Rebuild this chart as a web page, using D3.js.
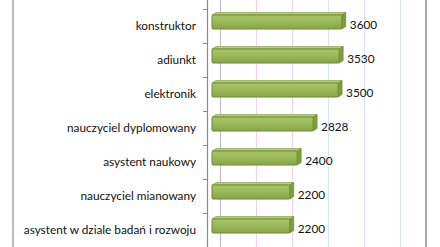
<!DOCTYPE html>
<html>
<head>
<meta charset="utf-8">
<script src="https://cdn.jsdelivr.net/npm/d3@7"></script>
<style>
  body { margin: 0; background: #fff; }
  svg { display: block; font-family: Lato, "Open Sans", sans-serif; }
</style>
</head>
<body>
<svg width="440" height="247"></svg>
<script>
var categories = ["konstruktor", "adiunkt", "elektronik", "nauczyciel dyplomowany",
  "asystent naukowy", "nauczyciel mianowany", "asystent w dziale badań i rozwoju"];
var values = [3600, 3530, 3500, 2828, 2400, 2200, 2200];
var gridValues = [0, 1000, 2000, 3000, 4000, 5000];
var gridColors = ["#c4bccf", "#f3d2f3", "#f3d2f3", "#d9e5f8", "#d9e5f8", "#d9e5f8"];

var svg = d3.select("svg"),
    width = +svg.attr("width"),
    height = +svg.attr("height"),
    dx = 4, dy = 2.5;

// front face scale and back wall scale (3D offset)
var x = d3.scaleLinear().domain([0, 6000]).range([208, 431]);
var xBack = d3.scaleLinear().domain([0, 5000]).range([220, 400]);
var y = d3.scaleBand().domain(categories).range([9, 247]);

var defs = svg.append("defs");
var grad = defs.append("linearGradient").attr("id", "barGrad")
    .attr("x1", 0).attr("x2", 0).attr("y1", 0).attr("y2", 1);
grad.append("stop").attr("offset", "0%").attr("stop-color", "#a9c56c");
grad.append("stop").attr("offset", "45%").attr("stop-color", "#9bbb59");
grad.append("stop").attr("offset", "100%").attr("stop-color", "#87a449");

// outer borders
svg.append("line").attr("x1", 13).attr("x2", 13).attr("y1", 0).attr("y2", height)
    .attr("stroke", "#a6a6a6").attr("stroke-width", 1.5);
svg.append("line").attr("x1", 426).attr("x2", 426).attr("y1", 0).attr("y2", height)
    .attr("stroke", "#8c8c8c").attr("stroke-width", 1.5);

// gridlines on back wall
svg.selectAll("line.grid")
  .data(gridValues)
  .enter().append("line")
    .attr("class", "grid")
    .attr("x1", function(d) { return xBack(d) + 0.5; })
    .attr("x2", function(d) { return xBack(d) + 0.5; })
    .attr("y1", 0)
    .attr("y2", height)
    .attr("stroke", function(d, i) { return gridColors[i]; })
    .attr("stroke-width", 1.2);

// category axis
svg.append("line").attr("x1", 207.5).attr("x2", 207.5).attr("y1", 0).attr("y2", height)
    .attr("stroke", "#8a8a8a").attr("stroke-width", 1.2);
svg.selectAll("line.tick")
  .data(categories)
  .enter().append("line")
    .attr("class", "tick")
    .attr("x1", 203)
    .attr("x2", 207)
    .attr("y1", function(d) { return Math.round(y(d)) + 0.5; })
    .attr("y2", function(d) { return Math.round(y(d)) + 0.5; })
    .attr("stroke", "#8a8a8a");

svg.selectAll("text.cat")
  .data(categories)
  .enter().append("text")
    .attr("class", "cat")
    .attr("x", 196)
    .attr("y", function(d) { return y(d) + 17; })
    .attr("dy", "0.35em")
    .attr("text-anchor", "end")
    .attr("font-size", 11.8)
    .attr("fill", "#111")
    .text(function(d) { return d; });

// bars
var bars = svg.selectAll("g.bar")
  .data(categories)
  .enter().append("g")
    .attr("class", "bar");

function barTop(d) { return y(d) + 6; }
function barBottom(d) { return y(d) + 20; }

bars.append("path")
    .attr("d", function(d, i) {
      var x0 = 212, x1 = x(values[i]), t = barTop(d);
      return "M" + x0 + "," + t + "L" + (x0 + dx) + "," + (t - dy) + "L" + (x1 + dx) + "," + (t - dy) + "L" + x1 + "," + t + "Z";
    })
    .attr("fill", "#b4cd78")
    .attr("stroke", "#7e9a42")
    .attr("stroke-width", 0.6);

bars.append("path")
    .attr("d", function(d, i) {
      var x1 = x(values[i]), t = barTop(d), b = barBottom(d);
      return "M" + x1 + "," + t + "L" + (x1 + dx) + "," + (t - dy) + "L" + (x1 + dx) + "," + (b - dy) + "L" + x1 + "," + b + "Z";
    })
    .attr("fill", "#7f9c40")
    .attr("stroke", "#6b8535")
    .attr("stroke-width", 0.6);

bars.append("rect")
    .attr("x", 212)
    .attr("y", barTop)
    .attr("width", function(d, i) { return x(values[i]) - 212; })
    .attr("height", function(d) { return barBottom(d) - barTop(d); })
    .attr("rx", 1)
    .attr("fill", "url(#barGrad)")
    .attr("stroke", "#6f8a3a")
    .attr("stroke-width", 1);

svg.selectAll("text.val")
  .data(categories)
  .enter().append("text")
    .attr("class", "val")
    .attr("x", function(d, i) { return x(values[i]) + 8; })
    .attr("y", function(d) { return y(d) + 15.5; })
    .attr("dy", "0.35em")
    .attr("font-size", 11.8)
    .attr("fill", "#111")
    .text(function(d, i) { return values[i]; });
</script>
</body>
</html>
